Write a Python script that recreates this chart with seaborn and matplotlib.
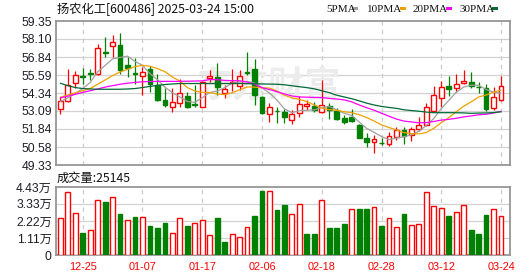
import numpy as np
import pandas as pd
import matplotlib
matplotlib.use("Agg")
import matplotlib.pyplot as plt
from matplotlib.patches import Rectangle
import seaborn as sns

# ---------------- data ----------------
title = "扬农化工[600486] 2025-03-24 15:00"
dates = ["12-20", "12-23", "12-24", "12-25", "12-26", "12-27", "12-30", "12-31",
         "01-02", "01-03", "01-06", "01-07", "01-08", "01-09", "01-10", "01-13",
         "01-14", "01-15", "01-16", "01-17", "01-20", "01-21", "01-22", "01-23",
         "01-24", "01-27", "02-05", "02-06", "02-07", "02-10", "02-11", "02-12",
         "02-13", "02-14", "02-17", "02-18", "02-19", "02-20", "02-21", "02-24",
         "02-25", "02-26", "02-27", "02-28", "03-03", "03-04", "03-05", "03-06",
         "03-07", "03-10", "03-11", "03-12", "03-13", "03-14", "03-17", "03-18",
         "03-19", "03-20", "03-21", "03-24"]
date_ticks = ["12-25", "01-07", "01-17", "02-06", "02-18", "02-28", "03-12", "03-24"]

opens = [53.20, 53.81, 55.01, 55.55, 55.71, 55.64, 57.22, 57.61, 57.68, 56.29,
         55.76, 55.52, 55.99, 54.90, 53.85, 53.34, 53.67, 54.13, 53.58, 53.39,
         55.41, 55.43, 54.32, 55.02, 54.83, 55.83, 55.99, 54.09, 52.86, 53.11,
         52.99, 52.46, 52.93, 53.44, 53.44, 53.04, 53.44, 53.11, 52.63, 52.65,
         52.12, 51.24, 50.91, 50.89, 50.77, 51.26, 51.77, 51.42, 51.81, 52.09,
         53.11, 53.97, 54.83, 54.67, 55.06, 55.13, 54.78, 54.67, 53.27, 53.85]
closes = [53.78, 54.90, 55.59, 55.48, 55.64, 57.45, 57.15, 57.87, 55.94, 56.10,
          55.64, 55.78, 54.97, 53.85, 53.51, 53.69, 54.32, 53.39, 53.53, 55.13,
          55.52, 54.78, 54.60, 55.10, 55.52, 55.71, 54.20, 52.93, 53.34, 53.06,
          52.65, 52.88, 53.58, 53.55, 53.16, 53.51, 53.16, 52.51, 52.30, 52.42,
          51.24, 50.91, 51.14, 50.84, 51.37, 51.77, 51.35, 51.81, 52.09, 53.39,
          54.20, 54.78, 54.64, 54.97, 55.18, 54.83, 54.74, 53.20, 54.04, 54.83]
highs = [54.09, 55.99, 55.89, 56.06, 55.99, 57.73, 58.21, 58.38, 58.49, 56.82,
         56.75, 56.17, 56.22, 55.66, 54.67, 54.67, 55.29, 54.43, 54.90, 55.18,
         55.94, 56.45, 54.90, 55.99, 55.94, 57.22, 56.68, 54.13, 53.62, 53.34,
         53.20, 53.16, 54.13, 53.85, 53.74, 55.25, 53.62, 53.27, 52.81, 53.20,
         52.19, 51.54, 51.42, 51.19, 51.65, 52.00, 51.95, 52.00, 52.65, 53.62,
         54.83, 55.18, 55.52, 55.66, 55.94, 55.80, 55.13, 54.97, 54.78, 55.52]
lows = [52.88, 53.74, 54.67, 54.97, 55.25, 55.59, 56.87, 56.87, 55.64, 55.48,
        54.97, 54.20, 54.43, 53.81, 53.34, 53.04, 53.34, 53.27, 53.34, 53.34,
        55.13, 54.20, 53.97, 54.50, 54.55, 55.59, 53.51, 52.88, 52.35, 52.28,
        52.23, 52.19, 52.70, 53.16, 53.04, 52.93, 52.51, 52.46, 52.19, 52.35,
        51.19, 50.61, 50.19, 50.70, 50.68, 51.07, 50.79, 51.03, 51.72, 52.05,
        53.04, 53.34, 54.13, 54.43, 54.97, 54.67, 54.36, 53.11, 53.16, 53.81]
volumes = [23900, 41300, 27600, 14100, 16100, 35600, 34300, 37600, 26500, 22600,
           24500, 25000, 18700, 17600, 20600, 14500, 23900, 18700, 20600, 22600,
           12800, 23900, 8300, 13700, 11900, 18200, 25400, 41700, 41700, 29300,
           32600, 26500, 33000, 13700, 13700, 35800, 17600, 17600, 20200, 30000,
           30000, 30000, 31100, 18900, 24100, 18200, 26700, 19300, 20000, 40800,
           31700, 30400, 25400, 27800, 32400, 16300, 13700, 26100, 30000, 25145]

# moving-average values before a full window exists
ma5_head = [53.75, 54.0, 54.3, 54.65]
ma10_head = [54.05, 54.2, 54.35, 54.5, 54.65, 54.95, 55.25, 55.55, 55.8]
ma20_head = [54.0, 54.12, 54.25, 54.38, 54.5, 54.62, 54.75, 54.85, 54.95, 55.02,
             55.08, 55.12, 55.14, 55.15, 55.15, 55.15, 55.15, 55.16, 55.17]
ma30_head = [55.02, 54.85, 54.72, 54.65, 54.62, 54.6, 54.6, 54.6, 54.6, 54.62,
             54.65, 54.72, 54.8, 54.87, 54.93, 54.97, 55.0, 55.0, 55.0, 55.0,
             55.0, 55.0, 55.0, 55.0, 55.0, 54.99, 54.98, 54.97, 54.96]

price_ticks = [59.35, 58.10, 56.84, 55.59, 54.34, 53.09, 51.84, 50.58, 49.33]
price_tick_labels = ["59.35", "58.10", "56.84", "55.59", "54.34", "53.09", "51.84", "50.58", "49.33"]
vol_ticks = [0, 11100, 22200, 33300, 44300]
vol_tick_labels = ["0", "1.11万", "2.22万", "3.33万", "4.43万"]
last_volume = "25145"

ma_names = ["5PMA", "10PMA", "20PMA", "30PMA"]
ma_windows = [5, 10, 20, 30]

# ---------------- style ----------------
sns.set_style("white")
plt.rcParams["font.family"] = ["Liberation Sans", "Noto Sans CJK SC", "DejaVu Sans"]

RED = "#ff0000"
GREEN = "#008000"
MA_COLORS = ["#a0a0a0", "#f0a000", "#ff00ff", "#006a35"]
GRID = "#d2d2d2"
FRAME = "#969696"

W, H = 530, 276
fig = plt.figure(figsize=(W / 100, H / 100), dpi=100)
ax1 = fig.add_axes([56 / W, 1 - 165 / H, 454 / W, 144 / H])
ax2 = fig.add_axes([56 / W, 1 - 255 / H, 454 / W, 68 / H])

n = len(closes)
idx = np.arange(n)
df = pd.DataFrame({"i": idx, "open": opens, "close": closes, "high": highs,
                   "low": lows, "vol": volumes})

# moving averages
heads = [ma5_head, ma10_head, ma20_head, ma30_head]
for name, w, head in zip(ma_names, ma_windows, heads):
    m = df["close"].rolling(w).mean()
    m.iloc[:w - 1] = head
    df[name] = m

xlim = (-0.58, n - 1 + 1.2)
tick_pos = [dates.index(d) for d in date_ticks]

# ---------------- price panel ----------------
ax1.set_xlim(*xlim)
ax1.set_ylim(price_ticks[-1], price_ticks[0])
for y in price_ticks[1:-1]:
    ax1.axhline(y, color=GRID, lw=0.9, zorder=0.5)
for x in tick_pos:
    ax1.axvline(x, color="#cccccc", lw=0.9, ls=(0, (3.5, 3.5)), zorder=0.5)

ax1.text(0.47, 0.55, "东方财富", transform=ax1.transAxes, ha="center", va="center",
         fontsize=26, color="#ececec", fontweight="bold", style="italic", zorder=0.6,
         family=["Noto Sans CJK SC"])

bw = 0.64
for r in df.itertuples():
    up = r.close >= r.open
    col = RED if up else GREEN
    ax1.vlines(r.i, r.low, r.high, color=col, lw=0.9, zorder=2)
    bottom = min(r.open, r.close)
    h = max(abs(r.close - r.open), 0.025)
    ax1.bar(r.i, h, bottom=bottom, width=bw, color="white" if up else GREEN,
            edgecolor=col, linewidth=1.0, zorder=3)

for name, c in zip(ma_names, MA_COLORS):
    sns.lineplot(data=df, x="i", y=name, ax=ax1, color=c, linewidth=0.9,
                 zorder=4, legend=False)

ax1.set_yticks(price_ticks)
ax1.set_yticklabels(price_tick_labels)
ax1.set_xticks(tick_pos)
ax1.set_xticklabels([])
ax1.tick_params(axis="both", length=0)
ax1.tick_params(axis="y", pad=3, labelsize=8.7, labelcolor="#1e1e28")
ax1.set_xlabel("")
ax1.set_ylabel("")

# ---------------- volume panel ----------------
ax2.set_xlim(*xlim)
ax2.set_ylim(vol_ticks[0], vol_ticks[-1])
for y in vol_ticks[1:-1]:
    ax2.axhline(y, color=GRID, lw=0.9, zorder=0.5)
for x in tick_pos:
    ax2.axvline(x, color="#cccccc", lw=0.9, ls=(0, (3.5, 3.5)), zorder=0.5)

prev = df["close"].shift(1).fillna(df["open"])
vol_up = df["close"] >= prev
for r, u in zip(df.itertuples(), vol_up):
    col = RED if u else GREEN
    ax2.bar(r.i, r.vol, width=bw, color="white" if u else GREEN,
            edgecolor=col, linewidth=1.0, zorder=3)

ax2.set_yticks(vol_ticks)
ax2.set_yticklabels(vol_tick_labels)
ax2.set_xticks(tick_pos)
ax2.set_xticklabels(date_ticks)
ax2.tick_params(axis="both", length=0)
ax2.tick_params(axis="y", pad=3, labelsize=8.7, labelcolor="#1e1e28")
ax2.tick_params(axis="x", pad=5, labelsize=7.8, labelcolor=RED)
ax2.set_xlabel("")
ax2.set_ylabel("")

for ax in (ax1, ax2):
    for s in ax.spines.values():
        s.set_color(FRAME)
        s.set_linewidth(1.3)
        s.set_visible(True)

# ---------------- texts ----------------
fig.text(57 / W, 1 - 9.5 / H, title, ha="left", va="center", fontsize=8.8,
         color="#111111", family=["Noto Sans CJK SC"])
fig.text(57 / W, 1 - 178 / H, "成交量:" + last_volume, ha="left", va="center",
         fontsize=8.8, color="#111111", family=["Noto Sans CJK SC"])

leg_text_x = [326, 367, 413, 459]
leg_box_x = [352, 400, 446, 492]
for name, c, tx, bx in zip(ma_names, MA_COLORS, leg_text_x, leg_box_x):
    fig.text(tx / W, 1 - 9 / H, name, ha="left", va="center", fontsize=8.0,
             color="#111111", family=["Liberation Serif"])
    fig.add_artist(Rectangle((bx / W, 1 - 10 / H), 6 / W, 3 / H,
                             transform=fig.transFigure, color=c, lw=0))

fig.savefig("out.png", dpi=100)
